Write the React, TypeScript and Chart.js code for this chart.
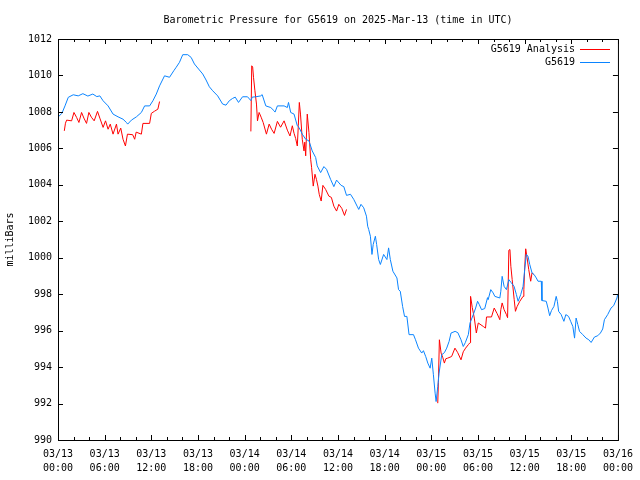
import React, { useEffect, useRef } from "react";
import { Chart, registerables } from "chart.js";

Chart.register(...registerables);

const TITLE = "Barometric Pressure for G5619 on 2025-Mar-13 (time in UTC)";
const Y_LABEL = "milliBars";
const SERIES_NAMES = ["G5619 Analysis", "G5619"];
const SERIES_COLORS = ["#ff0000", "#0a84ff"];
const FONT = '"DejaVu Sans Mono", "Liberation Mono", monospace';

const X_TICK_DATES = ["03/13", "03/13", "03/13", "03/13", "03/14", "03/14", "03/14", "03/14", "03/15", "03/15", "03/15", "03/15", "03/16"];
const X_TICK_TIMES = ["00:00", "06:00", "12:00", "18:00", "00:00", "06:00", "12:00", "18:00", "00:00", "06:00", "12:00", "18:00", "00:00"];
const Y_TICKS = [990, 992, 994, 996, 998, 1000, 1002, 1004, 1006, 1008, 1010, 1012];

// hours since 2025-03-13 00:00 UTC
const stationHours = [
  0.00, 0.51, 0.90, 1.32, 1.96, 2.60, 3.20, 3.84, 4.48, 4.99,
  5.38, 5.80, 6.44, 7.08, 7.72, 8.36, 8.80, 8.96, 9.44, 10.08,
  10.72, 11.14, 11.78, 12.20, 12.64, 13.06, 13.70, 14.34, 14.89, 15.20,
  15.62, 16.04, 16.68, 17.12, 17.54, 18.18, 18.61, 19.04, 19.46, 19.89,
  20.53, 21.17, 21.60, 22.02, 22.45, 22.79, 23.21, 23.73, 24.37, 24.80,
  24.97, 25.44, 26.08, 26.25, 26.72, 27.36, 27.79, 27.91, 28.21, 29.07,
  29.49, 29.64, 29.92, 30.35, 30.77, 30.99, 31.41, 31.85, 32.27, 32.69,
  33.13, 33.33, 33.77, 34.19, 34.53, 35.05, 35.47, 35.82, 36.40, 36.75,
  37.10, 37.61, 38.03, 38.46, 38.67, 38.96, 39.31, 39.66, 39.82, 39.95,
  40.17, 40.37, 40.53, 40.81, 40.97, 41.23, 41.45, 41.87, 42.29, 42.51,
  42.73, 43.06, 43.58, 43.79, 44.01, 44.31, 44.56, 44.86, 45.14, 45.71,
  45.97, 46.35, 46.77, 46.99, 47.29, 47.55, 47.85, 48.06, 48.27, 48.49,
  48.62, 48.83, 49.00, 49.34, 49.68, 49.98, 50.29, 50.54, 51.06, 51.41,
  51.82, 52.11, 52.37, 52.76, 52.98, 53.40, 53.70, 53.95, 54.17, 54.46,
  54.87, 55.23, 55.31, 55.65, 55.95, 56.17, 56.81, 56.94, 57.11, 57.36,
  57.66, 57.97, 58.26, 58.64, 58.94, 59.16, 59.50, 59.80, 60.01, 60.22,
  60.44, 60.66, 60.95, 61.21, 61.50, 61.72, 62.14, 62.23, 62.78, 63.00,
  63.22, 63.45, 63.77, 64.06, 64.22, 64.37, 64.70, 65.05, 65.30, 65.65,
  65.94, 66.20, 66.42, 66.62, 66.84, 67.06, 67.48, 67.90, 68.25, 68.55,
  68.98, 69.40, 69.75, 70.04, 70.26, 70.68, 71.11, 71.45, 71.87, 71.96,
];
const stationValues = [
  1007.71, 1007.93, 1008.33, 1008.80, 1008.94, 1008.88, 1009.00, 1008.87, 1008.98, 1008.84,
  1008.88, 1008.61, 1008.33, 1007.88, 1007.73, 1007.60, 1007.42, 1007.33, 1007.55, 1007.73,
  1007.97, 1008.33, 1008.33, 1008.61, 1008.98, 1009.43, 1009.98, 1009.90, 1010.26, 1010.45,
  1010.72, 1011.14, 1011.14, 1010.99, 1010.63, 1010.30, 1010.08, 1009.75, 1009.38, 1009.16,
  1008.88, 1008.43, 1008.37, 1008.61, 1008.74, 1008.81, 1008.52, 1008.83, 1008.83, 1008.62,
  1008.81, 1008.83, 1008.88, 1008.95, 1008.33, 1008.24, 1008.06, 1007.99, 1008.33, 1008.33,
  1008.24, 1008.52, 1007.97, 1007.88, 1007.24, 1007.15, 1006.78, 1006.50, 1006.41, 1005.86,
  1005.50, 1005.04, 1004.67, 1005.00, 1004.85, 1004.30, 1003.90, 1004.26, 1003.97, 1003.90,
  1003.42, 1003.48, 1003.20, 1002.83, 1002.65, 1002.93, 1002.74, 1002.28, 1001.73, 1001.55,
  1001.18, 1000.18, 1000.73, 1001.18, 1000.73, 999.90, 999.63, 1000.18, 999.90, 1000.54,
  999.90, 999.26, 998.89, 998.25, 998.16, 997.33, 996.78, 996.78, 995.78, 995.78,
  995.50, 995.04, 994.77, 994.90, 994.57, 994.22, 993.94, 994.49, 993.58, 992.57,
  992.11, 992.93, 993.67, 994.68, 994.79, 995.04, 995.41, 995.87, 995.96, 995.89,
  995.50, 995.13, 995.34, 995.78, 996.42, 996.88, 997.24, 997.61, 997.43, 997.15,
  997.21, 997.81, 997.70, 998.25, 998.07, 997.88, 997.79, 998.16, 998.98, 998.43,
  998.25, 998.80, 998.64, 998.43, 997.98, 997.61, 997.98, 998.43, 999.35, 1000.18,
  1000.07, 999.63, 999.17, 999.08, 998.89, 998.71, 998.71, 997.65, 997.61, 997.24,
  996.82, 997.10, 997.33, 997.88, 997.59, 997.06, 996.88, 996.51, 996.88, 996.78,
  996.49, 996.23, 995.59, 996.69, 996.33, 995.96, 995.78, 995.59, 995.50, 995.35,
  995.65, 995.72, 995.87, 996.09, 996.60, 996.88, 997.24, 997.37, 997.79, 997.98,
];

// analysis runs; null marks a break between runs
const analysisHours = [
  0.81, 0.96, 1.11, 1.75, 2.05, 2.39, 2.69, 3.03, 3.33, 3.67,
  3.97, 4.29, 4.65, 5.08, 5.38, 5.80, 6.11, 6.44, 6.72, 7.08,
  7.52, 7.72, 8.07, 8.36, 8.67, 8.93, 9.60, 9.86, 10.05, 10.72,
  10.92, 11.78, 12.00, 12.42, 12.84, 13.06,
  18.00,
  24.80, 24.91, 25.03, 25.14, 25.32, 25.52, 25.65, 25.86, 26.12, 26.38,
  26.80, 27.15, 27.46, 27.79, 28.21, 28.62, 29.07, 29.49, 29.83, 30.13,
  30.35, 30.56, 30.77, 30.90, 31.03, 31.18, 31.41, 31.63, 31.73, 31.85,
  32.05, 32.27, 32.49, 32.61, 32.82, 33.04, 33.23, 33.42, 33.59, 33.84,
  34.06, 34.41, 34.83, 35.15, 35.47, 35.82, 36.11, 36.49, 36.84, 37.10,
  43.00,
  48.83, 48.91, 49.04, 49.26, 49.49, 49.68, 49.87, 50.10, 50.61, 51.04,
  51.40, 51.82, 52.11, 52.41, 52.76, 52.98, 53.05, 53.27, 53.53, 53.79,
  54.04, 54.68, 54.97, 55.10, 55.74, 56.09, 56.47, 56.81, 56.94, 57.11,
  57.36, 57.66, 57.81, 57.97, 58.11, 58.23, 58.40, 58.66, 58.82, 59.03,
  59.38, 59.80, 59.90, 60.01, 60.14, 60.31, 60.53, 60.78, 60.95, 61.15,
];
const analysisValues = [
  1006.96, 1007.38, 1007.55, 1007.51, 1007.97, 1007.70, 1007.42, 1007.97, 1007.66, 1007.37,
  1007.97, 1007.71, 1007.51, 1008.03, 1007.66, 1007.15, 1007.51, 1007.05, 1007.33, 1006.78,
  1007.33, 1006.78, 1007.11, 1006.50, 1006.13, 1006.78, 1006.75, 1006.50, 1006.89, 1006.78,
  1007.37, 1007.37, 1007.92, 1008.04, 1008.15, 1008.57,
  null,
  1006.93, 1010.53, 1010.46, 1009.90, 1009.16, 1008.43, 1007.51, 1007.97, 1007.71, 1007.42,
  1006.78, 1007.33, 1007.05, 1006.82, 1007.48, 1007.16, 1007.51, 1007.00, 1006.68, 1007.24,
  1006.83, 1006.54, 1006.13, 1007.24, 1008.52, 1007.88, 1006.50, 1005.86, 1006.34, 1005.59,
  1007.88, 1006.87, 1005.40, 1004.94, 1003.93, 1004.58, 1004.30, 1003.93, 1003.48, 1003.11,
  1003.97, 1003.75, 1003.38, 1003.31, 1002.83, 1002.56, 1002.93, 1002.71, 1002.32, 1002.65,
  null,
  992.02, 993.14, 995.50, 994.77, 994.51, 994.22, 994.46, 994.49, 994.58, 995.04,
  994.79, 994.40, 994.84, 995.04, 995.23, 995.34, 997.88, 997.26, 996.69, 995.87,
  996.42, 996.23, 996.14, 996.75, 996.75, 997.24, 996.93, 996.60, 997.15, 997.52,
  997.15, 996.88, 996.71, 1000.41, 1000.45, 999.53, 998.80, 997.70, 997.06, 997.32,
  997.61, 997.88, 998.25, 999.44, 1000.49, 1000.01, 999.35, 998.71, 999.17, 999.08,
];

const framePlugin = {
  id: "gnuframe",
  afterDraw(chart: any) {
    const { ctx, chartArea: a, scales } = chart;
    const xs = scales.x;
    const ys = scales.y;
    ctx.save();
    ctx.strokeStyle = "#000";
    ctx.fillStyle = "#000";
    ctx.lineWidth = 1;
    ctx.strokeRect(a.left + 0.5, a.top + 0.5, a.right - a.left, a.bottom - a.top);
    ctx.beginPath();
    for (let h = 0; h <= 72; h += 2) {
      const x = Math.round(xs.getPixelForValue(h)) + 0.5;
      const len = h % 6 === 0 ? 5 : 3;
      ctx.moveTo(x, a.bottom);
      ctx.lineTo(x, a.bottom - len);
      ctx.moveTo(x, a.top);
      ctx.lineTo(x, a.top + len);
    }
    for (const v of Y_TICKS) {
      const y = Math.round(ys.getPixelForValue(v)) + 0.5;
      ctx.moveTo(a.left, y);
      ctx.lineTo(a.left + 5, y);
      ctx.moveTo(a.right, y);
      ctx.lineTo(a.right - 5, y);
    }
    ctx.stroke();

    ctx.font = "10px " + FONT;
    ctx.textBaseline = "middle";
    ctx.textAlign = "center";
    ctx.fillText(TITLE, (a.left + a.right) / 2, 20);

    ctx.save();
    ctx.translate(10, (a.top + a.bottom) / 2);
    ctx.rotate(-Math.PI / 2);
    ctx.fillText(Y_LABEL, 0, 0);
    ctx.restore();

    // legend (top right, inside plot)
    ctx.textAlign = "right";
    SERIES_NAMES.forEach((name, i) => {
      const y = 49 + i * 13;
      ctx.fillStyle = "#000";
      ctx.fillText(name, 575, y);
      ctx.strokeStyle = SERIES_COLORS[i];
      ctx.beginPath();
      ctx.moveTo(580, y + 0.5);
      ctx.lineTo(610, y + 0.5);
      ctx.stroke();
    });
    ctx.restore();
  },
};

export default function App() {
  const ref = useRef<HTMLCanvasElement | null>(null);
  useEffect(() => {
    document.body.style.margin = "0";
    const canvas = ref.current;
    if (!canvas) return;
    const stationData = stationHours.map((h, i) => ({ x: h, y: stationValues[i] }));
    const analysisData = analysisHours.map((h, i) => ({ x: h, y: analysisValues[i] }));
    const chart = new Chart(canvas, {
      type: "line",
      data: {
        datasets: [
          {
            label: SERIES_NAMES[0],
            data: analysisData,
            borderColor: SERIES_COLORS[0],
            borderWidth: 1,
            pointRadius: 0,
            tension: 0,
            spanGaps: false,
            order: 1,
          },
          {
            label: SERIES_NAMES[1],
            data: stationData,
            borderColor: SERIES_COLORS[1],
            borderWidth: 1,
            pointRadius: 0,
            tension: 0,
            order: 0,
          },
        ],
      },
      options: {
        responsive: false,
        animation: false,
        events: [],
        layout: { padding: { top: 39, right: 20, left: 0, bottom: 0 } },
        plugins: {
          legend: { display: false },
          title: { display: false },
          tooltip: { enabled: false },
        },
        scales: {
          x: {
            type: "linear",
            min: 0,
            max: 72,
            grid: { display: false, drawTicks: false },
            border: { display: false },
            ticks: {
              stepSize: 6,
              autoSkip: false,
              maxRotation: 0,
              padding: 7,
              color: "#000",
              font: { family: FONT, size: 10, lineHeight: 1.45 },
              callback: (v: any) => {
                const i = Math.round(Number(v) / 6);
                return [X_TICK_DATES[i], X_TICK_TIMES[i]];
              },
            },
            afterFit: (s: any) => {
              s.height = 40;
            },
          },
          y: {
            min: 990,
            max: 1012,
            grid: { display: false, drawTicks: false },
            border: { display: false },
            ticks: {
              stepSize: 2,
              autoSkip: false,
              padding: 6,
              color: "#000",
              font: { family: FONT, size: 10 },
              callback: (v: any) => String(Math.round(Number(v))),
            },
            afterFit: (s: any) => {
              s.width = 58;
            },
          },
        },
      },
      plugins: [framePlugin],
    } as any);
    return () => chart.destroy();
  }, []);
  return (
    <div style={{ position: "absolute", left: 0, top: 0, width: 640, height: 480, background: "#fff" }}>
      <canvas ref={ref} width={640} height={480} />
    </div>
  );
}
